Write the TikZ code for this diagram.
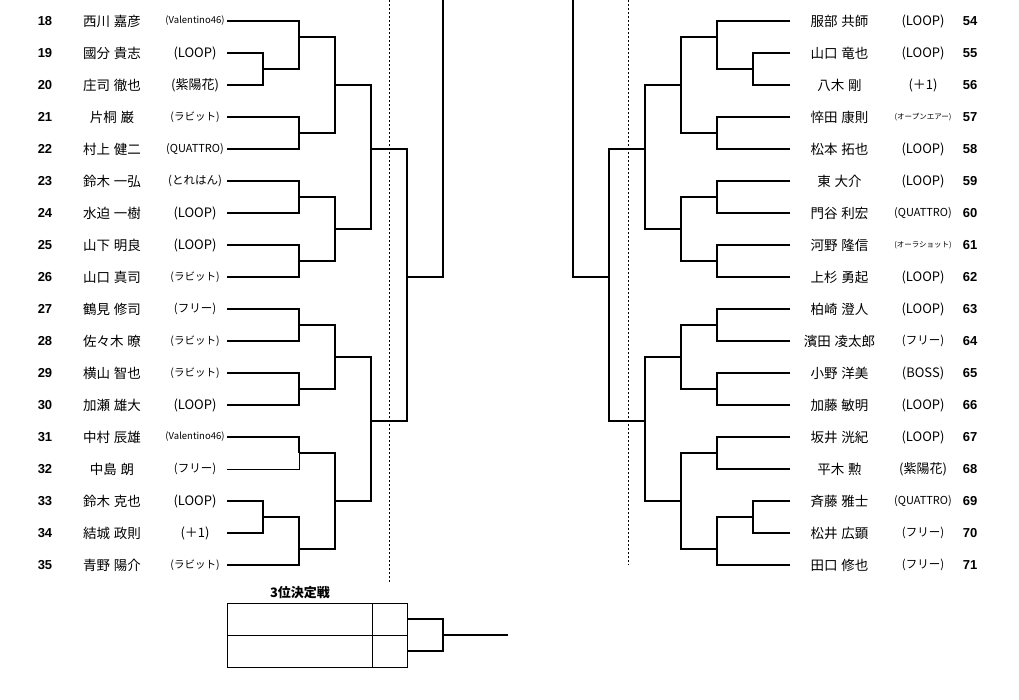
\documentclass[tikz,border=0pt]{standalone}
\usepackage{fontspec}
\newfontfamily\jp[WordSpace=1.2]{Noto Sans CJK JP}
\newfontfamily\numf{Liberation Sans}
\newcommand\lpl[4]{%
  \pgfmathsetmacro\yy{21+32*(#1-18)}%
  \node[num] (n#1) at (45,\yy) {#1};%
  \node[nm] (p#1) at (112,\yy) {#2};%
  \node[#4] (t#1) at (195,\yy) {#3};%
  \coordinate (L#1) at (227,\yy);}
\newcommand\rpl[4]{%
  \pgfmathsetmacro\yy{21+32*(#1-54)}%
  \node[num] (n#1) at (970,\yy) {#1};%
  \node[nm] (p#1) at (839.5,\yy) {#2};%
  \node[#4] (t#1) at (923,\yy) {#3};%
  \coordinate (R#1) at (790,\yy);}
\begin{document}
\begin{tikzpicture}[x=1pt,y=-1pt,
  br/.style={line width=2.4pt, line join=miter},
  thinline/.style={line width=1pt},
  guide/.style={line width=0.9pt, dash pattern=on 2pt off 2pt},
  num/.style={font=\numf\bfseries\fontsize{13}{13}\selectfont, inner sep=0pt},
  nm/.style={font=\jp\fontsize{13.5}{13.5}\selectfont, inner sep=0pt},
  tm/.style={font=\jp\fontsize{13}{13}\selectfont, inner sep=0pt},
  tmk/.style={font=\jp\fontsize{10.5}{10.5}\selectfont, inner sep=0pt},
  tmf/.style={font=\jp\fontsize{11.5}{11.5}\selectfont, inner sep=0pt},
  tmq/.style={font=\jp\fontsize{11}{11}\selectfont, inner sep=0pt},
  tmv/.style={font=\jp\fontsize{9.5}{9.5}\selectfont, inner sep=0pt},
  tmxs/.style={font=\jp\fontsize{7.5}{7.5}\selectfont, inner sep=0pt},
  ttl/.style={font=\jp\bfseries\fontsize{13}{13}\selectfont, inner sep=0pt}]
\useasboundingbox (0,0) rectangle (1019,699);
\fill[white] (0,0) rectangle (1019,699);

% ---------- left players ----------
\lpl{18}{西川 嘉彦}{(Valentino46)}{tmv}
\lpl{19}{國分 貴志}{(LOOP)}{tm}
\lpl{20}{庄司 徹也}{(紫陽花)}{tm}
\lpl{21}{片桐 巌}{(ラビット)}{tmk}
\lpl{22}{村上 健二}{(QUATTRO)}{tmq}
\lpl{23}{鈴木 一弘}{(とれはん)}{tmf}
\lpl{24}{水迫 一樹}{(LOOP)}{tm}
\lpl{25}{山下 明良}{(LOOP)}{tm}
\lpl{26}{山口 真司}{(ラビット)}{tmk}
\lpl{27}{鶴見 修司}{(フリー)}{tmf}
\lpl{28}{佐々木 暸}{(ラビット)}{tmk}
\lpl{29}{横山 智也}{(ラビット)}{tmk}
\lpl{30}{加瀬 雄大}{(LOOP)}{tm}
\lpl{31}{中村 辰雄}{(Valentino46)}{tmv}
\lpl{32}{中島 朗}{(フリー)}{tmf}
\lpl{33}{鈴木 克也}{(LOOP)}{tm}
\lpl{34}{結城 政則}{(＋1)}{tm}
\lpl{35}{青野 陽介}{(ラビット)}{tmk}

% ---------- right players ----------
\rpl{54}{服部 共師}{(LOOP)}{tm}
\rpl{55}{山口 竜也}{(LOOP)}{tm}
\rpl{56}{八木 剛}{(＋1)}{tm}
\rpl{57}{悴田 康則}{(オープンエアー)}{tmxs}
\rpl{58}{松本 拓也}{(LOOP)}{tm}
\rpl{59}{東 大介}{(LOOP)}{tm}
\rpl{60}{門谷 利宏}{(QUATTRO)}{tmq}
\rpl{61}{河野 隆信}{(オーラショット)}{tmxs}
\rpl{62}{上杉 勇起}{(LOOP)}{tm}
\rpl{63}{柏崎 澄人}{(LOOP)}{tm}
\rpl{64}{濱田 凌太郎}{(フリー)}{tmf}
\rpl{65}{小野 洋美}{(BOSS)}{tm}
\rpl{66}{加藤 敏明}{(LOOP)}{tm}
\rpl{67}{坂井 洸紀}{(LOOP)}{tm}
\rpl{68}{平木 勲}{(紫陽花)}{tm}
\rpl{69}{斉藤 雅士}{(QUATTRO)}{tmq}
\rpl{70}{松井 広顕}{(フリー)}{tmf}
\rpl{71}{田口 修也}{(フリー)}{tmf}

% ---------- left join points ----------
\coordinate (J1920) at (263,69);
\coordinate (J18) at (299,37);
\coordinate (J2122) at (299,133);
\coordinate (JA) at (335,85);
\coordinate (J2324) at (299,197);
\coordinate (J2526) at (299,261);
\coordinate (JB) at (335,229);
\coordinate (JC) at (371,149);
\coordinate (J2728) at (299,325);
\coordinate (J2930) at (299,389);
\coordinate (JD) at (335,357);
\coordinate (J3132) at (299,453);
\coordinate (J3334) at (263,517);
\coordinate (J35) at (299,549);
\coordinate (JE) at (335,501);
\coordinate (JF) at (371,421);
\coordinate (JG) at (407,277);
\coordinate (LT) at (443,0);

\draw[br] (L19) -| (J1920) |- (L20);
\draw[br] (L18) -| (J18) |- (J1920);
\draw[br] (L21) -| (J2122) |- (L22);
\draw[br] (J18) -| (JA) |- (J2122);
\draw[br] (L23) -| (J2324) |- (L24);
\draw[br] (L25) -| (J2526) |- (L26);
\draw[br] (J2324) -| (JB) |- (J2526);
\draw[br] (JA) -| (JC) |- (JB);
\draw[br] (L27) -| (J2728) |- (L28);
\draw[br] (L29) -| (J2930) |- (L30);
\draw[br] (J2728) -| (JD) |- (J2930);
\draw[br] (L31) -| (J3132);
\draw[thinline] (J3132) |- (L32);
\draw[br] (L33) -| (J3334) |- (L34);
\draw[br] (J3334) -| (J35) |- (L35);
\draw[br] (J3132) -| (JE) |- (J35);
\draw[br] (JD) -| (JF) |- (JE);
\draw[br] (JC) -| (JG) |- (JF);
\draw[br] (JG) -| (LT);

% ---------- right join points ----------
\coordinate (K5556) at (753,69);
\coordinate (K54) at (717,37);
\coordinate (K5758) at (717,133);
\coordinate (KA) at (681,85);
\coordinate (K5960) at (717,197);
\coordinate (K6162) at (717,261);
\coordinate (KB) at (681,229);
\coordinate (KC) at (645,149);
\coordinate (K6364) at (717,325);
\coordinate (K6566) at (717,389);
\coordinate (KD) at (681,357);
\coordinate (K6768) at (717,453);
\coordinate (K6970) at (753,517);
\coordinate (K71) at (717,549);
\coordinate (KE) at (681,501);
\coordinate (KF) at (645,421);
\coordinate (KG) at (609,277);
\coordinate (RT) at (573,0);

\draw[br] (R55) -| (K5556) |- (R56);
\draw[br] (R54) -| (K54) |- (K5556);
\draw[br] (R57) -| (K5758) |- (R58);
\draw[br] (K54) -| (KA) |- (K5758);
\draw[br] (R59) -| (K5960) |- (R60);
\draw[br] (R61) -| (K6162) |- (R62);
\draw[br] (K5960) -| (KB) |- (K6162);
\draw[br] (KA) -| (KC) |- (KB);
\draw[br] (R63) -| (K6364) |- (R64);
\draw[br] (R65) -| (K6566) |- (R66);
\draw[br] (K6364) -| (KD) |- (K6566);
\draw[br] (R67) -| (K6768) |- (R68);
\draw[br] (R69) -| (K6970) |- (R70);
\draw[br] (K6970) -| (K71) |- (R71);
\draw[br] (K6768) -| (KE) |- (K71);
\draw[br] (KD) -| (KF) |- (KE);
\draw[br] (KC) -| (KG) |- (KF);
\draw[br] (KG) -| (RT);

% ---------- dashed guides ----------
\coordinate (DA1) at (389,0);
\coordinate (DA2) at (389,582);
\coordinate (DB1) at (628,0);
\coordinate (DB2) at (628,565);
\draw[guide] (DA1) -- (DA2);
\draw[guide] (DB1) -- (DB2);

% ---------- third place ----------
\node[ttl] (title) at (300,593) {3位決定戦};
\draw[thinline] (227,603) rectangle (407,667);
\draw[thinline] (227,635) -- (407,635);
\draw[thinline] (372,603) -- (372,667);
\coordinate (B1) at (407,619);
\coordinate (B2) at (407,651);
\coordinate (BJ) at (443,635);
\coordinate (BE) at (508,635);
\draw[br] (B1) -| (BJ) |- (B2);
\draw[br] (BJ) -- (BE);
\end{tikzpicture}
\end{document}
